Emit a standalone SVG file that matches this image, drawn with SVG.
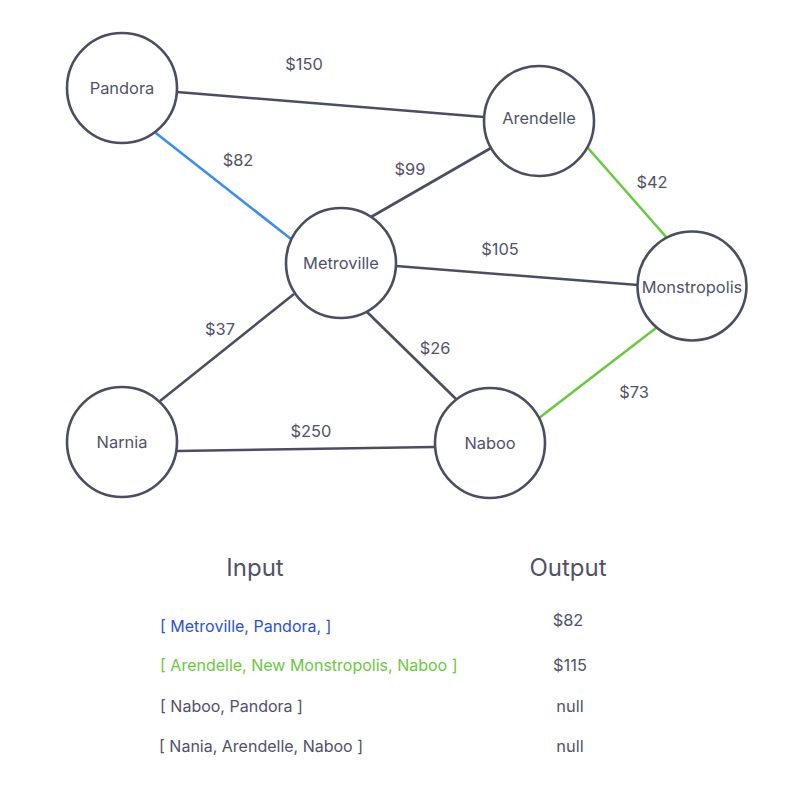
<svg xmlns="http://www.w3.org/2000/svg" width="803" height="799" viewBox="0 0 803 799">
<style>
.n{fill:#fff;stroke:#4b4d63;stroke-width:2.6}
.t{font-family:Inter,"Liberation Sans",sans-serif;font-size:16.4px;fill:#505268;text-anchor:middle;dominant-baseline:central}
.e{stroke:#4b4d63;stroke-width:2.6;fill:none}
.blue{stroke:#3b8ef0}
.green{stroke:#6ac93f}
.h{font-family:Inter,"Liberation Sans",sans-serif;font-size:24px;fill:#505268;text-anchor:middle;dominant-baseline:central}
.r{font-family:Inter,"Liberation Sans",sans-serif;font-size:16px;fill:#505268;dominant-baseline:central}
</style>
<rect width="803" height="799" fill="#fff"/>
<g id="connectors">
<line class="e" x1="177" y1="92" x2="484" y2="117"/>
<line class="e blue" x1="152" y1="130" x2="291" y2="239"/>
<line class="e" x1="371" y1="217" x2="491" y2="148"/>
<line class="e" x1="396" y1="266" x2="638" y2="285"/>
<line class="e green" x1="588" y1="148" x2="667" y2="238"/>
<line class="e green" x1="656" y1="328" x2="539" y2="418"/>
<line class="e" x1="367" y1="312" x2="457" y2="400"/>
<line class="e" x1="294" y1="294" x2="160" y2="401"/>
<line class="e" x1="177" y1="451" x2="435" y2="447"/>
<text class="t" x="304" y="64">$150</text>
<text class="t" x="238" y="160">$82</text>
<text class="t" x="410" y="169">$99</text>
<text class="t" x="652" y="182">$42</text>
<text class="t" x="500" y="249">$105</text>
<text class="t" x="220" y="329">$37</text>
<text class="t" x="435" y="348">$26</text>
<text class="t" x="634" y="392">$73</text>
<text class="t" x="311" y="431">$250</text>
</g>
<g id="pandora"><circle class="n" cx="122" cy="88" r="55"/><text class="t" x="122" y="88">Pandora</text></g>
<g id="arendelle"><circle class="n" cx="539" cy="121" r="55"/><text class="t" x="539" y="118">Arendelle</text></g>
<g id="metroville"><circle class="n" cx="341" cy="263" r="55"/><text class="t" x="341" y="263">Metroville</text></g>
<g id="monstropolis"><circle class="n" cx="692" cy="286" r="54.5"/><text class="t" x="692" y="287">Monstropolis</text></g>
<g id="narnia"><circle class="n" cx="122" cy="442" r="55"/><text class="t" x="122" y="442">Narnia</text></g>
<g id="naboo"><circle class="n" cx="490" cy="443" r="55"/><text class="t" x="490" y="443">Naboo</text></g>
<g id="table">
<text class="h" x="255" y="567">Input</text>
<text class="h" x="568" y="567">Output</text>
<text class="r" x="160" y="626" style="fill:#2b52d1">[ Metroville, Pandora, ]</text>
<text class="r" x="160" y="665" style="fill:#6ac93f">[ Arendelle, New Monstropolis, Naboo ]</text>
<text class="r" x="160" y="706">[ Naboo, Pandora ]</text>
<text class="r" x="159" y="746">[ Nania, Arendelle, Naboo ]</text>
<text class="t" x="568" y="620">$82</text>
<text class="t" x="570" y="665">$115</text>
<text class="t" x="570" y="706">null</text>
<text class="t" x="570" y="746">null</text>
</g>
</svg>
